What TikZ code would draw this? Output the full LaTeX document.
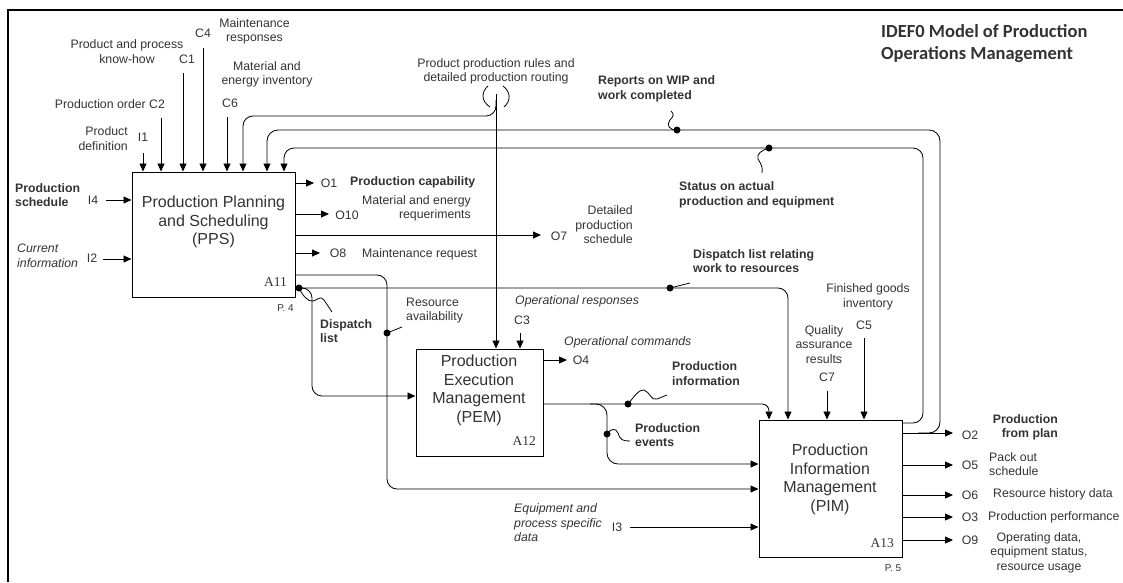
\documentclass[tikz,border=0pt]{standalone}
\usepackage{fontspec}
\setmainfont{Liberation Sans}
\newfontfamily\headfont{Carlito}
\newfontfamily\tagfont{Liberation Serif}
\usetikzlibrary{arrows.meta}
\definecolor{ink}{HTML}{333333}

\tikzset{
  lbl/.style={inner sep=0pt, text=ink, font=\fontsize{12.3}{14.5}\selectfont},
  blbl/.style={lbl, font=\fontsize{12.3}{14.5}\selectfont\bfseries},
  ilbl/.style={lbl, font=\fontsize{12.3}{14.5}\selectfont\itshape},
  box/.style={draw, line width=1pt, inner sep=0pt},
  boxtitle/.style={inner sep=0pt, align=center, text=ink, font=\fontsize{16}{18.5}\selectfont},
  tag/.style={inner sep=0pt, text=ink, anchor=east, font=\tagfont\fontsize{13.5}{15}\selectfont},
  page/.style={inner sep=0pt, text=ink, font=\fontsize{10}{12}\selectfont},
  flow/.style={line width=0.85pt},
  arr/.style={flow, -{Triangle[length=8pt,width=7pt]}},
  dot/.style={circle, fill, inner sep=0pt, minimum size=7pt},
  squig/.style={line width=0.8pt},
}

\begin{document}
\begin{tikzpicture}[x=1pt, y=-1pt]
\useasboundingbox (0,0) rectangle (1123,582);

% frame
\draw[line width=2pt] (8,582) -- (8,10) -- (1123,10);

% title
\node[inner sep=0pt, anchor=west, align=left, text=ink,
      font=\headfont\bfseries\fontsize{18.5}{22}\selectfont] (title) at (881,44)
  {IDEF0 Model of Production\\Operations Management};

% activity boxes
\node[box, minimum width=163pt, minimum height=125pt] (pps) at (213.5,234.5) {};
\node[box, minimum width=127pt, minimum height=107pt] (pem) at (479.5,402.5) {};
\node[box, minimum width=143pt, minimum height=137pt] (pim) at (830.5,488.5) {};

\node[boxtitle] (pps-t) at (213.5,222) {Production Planning\\and Scheduling\\(PPS)};
\node[boxtitle] (pem-t) at (479,390.5) {Production\\Execution\\Management\\(PEM)};
\node[boxtitle] (pim-t) at (830,479.5) {Production\\Information\\Management\\(PIM)};

\node[tag] (pps-n) at (287,282) {A11};
\node[tag] (pem-n) at (536,441) {A12};
\node[tag] (pim-n) at (894,543) {A13};
\node[page] (pps-p) at (285.5,308) {P. 4};
\node[page] (pim-p) at (893,568) {P. 5};

% ---------- PPS controls and inputs from above
\coordinate (i1) at (143,153);
\coordinate (c2) at (161,118);
\coordinate (c1) at (183,73);
\coordinate (c4) at (203,48);
\coordinate (c6) at (227,117);
\draw[arr] (i1) -- (i1 |- pps.north);
\draw[arr] (c2) -- (c2 |- pps.north);
\draw[arr] (c1) -- (c1 |- pps.north);
\draw[arr] (c4) -- (c4 |- pps.north);
\draw[arr] (c6) -- (c6 |- pps.north);

\node[lbl, anchor=east, align=right] (l-i1) at (128,138.5) {Product\\definition};
\node[lbl] (t-i1) at (143,137) {I1};
\node[lbl, anchor=east] (l-c2) at (146,104) {Production order};
\node[lbl] (t-c2) at (157,104) {C2};
\node[lbl, align=center] (l-c1) at (127,51.5) {Product and process\\know-how};
\node[lbl] (t-c1) at (187,59) {C1};
\node[lbl] (t-c4) at (203,33) {C4};
\node[lbl, align=center] (l-c4) at (254.5,31.5) {Maintenance\\responses};
\node[lbl, align=center] (l-c6) at (267,74.5) {Material and\\energy inventory};
\node[lbl] (t-c6) at (230,103) {C6};

% rules arrow with tunnel marks
\coordinate (rules) at (496,94);
\draw[arr] (rules) -- (rules |- pem.north);
\draw[squig] (488,86) .. controls (481,92) and (481,101) .. (490,107);
\draw[squig] (503,86) .. controls (511,92) and (511,101) .. (504,107);
\node[lbl, align=center] (l-rules) at (496,71.5)
  {Product production rules and\\detailed production routing};
\draw[arr, rounded corners=10pt] (496,100) |- (243,116) -- (243,116 |- pps.north);

% feedback loops from PIM back to PPS
\draw[arr, rounded corners=11pt] (918,433) -| (940,130) -| (267,130 |- pps.north);
\draw[arr, rounded corners=10pt] (pim.east |- 0,423) -| (923,148) -| (284,148 |- pps.north);

\node[dot] (wipdot) at (677,130) {};
\draw[squig] (wipdot.center) .. controls (669,130) and (666,125) .. (670,120)
  .. controls (674,116) and (674,114) .. (671,111);
\node[blbl, anchor=west, align=left] (l-wip) at (598,89) {Reports on WIP and\\work completed};

\node[dot] (stdot) at (769,148) {};
\draw[squig] (stdot.center) .. controls (762,150) and (756,154) .. (758,159)
  .. controls (761,164) and (763,167) .. (762,173);
\node[blbl, anchor=west, align=left] (l-st) at (679,195) {Status on actual\\production and equipment};

% ---------- PPS inputs from the left
\coordinate (i4) at (106,200);
\coordinate (i2) at (103,259);
\draw[arr] (i4) -- (i4 -| pps.west);
\draw[arr] (i2) -- (i2 -| pps.west);
\node[lbl] (t-i4) at (93,200) {I4};
\node[blbl, anchor=west, align=left] (l-i4) at (15,195) {Production\\schedule};
\node[lbl] (t-i2) at (92,258) {I2};
\node[ilbl, anchor=west, align=left] (l-i2) at (17,256) {Current\\information};

% ---------- PPS outputs
\coordinate (o1) at (314,183);
\coordinate (o10) at (329,214);
\coordinate (o7) at (541,235);
\coordinate (o8) at (320,253);
\draw[arr] (pps.east |- o1) -- (o1);
\draw[arr] (pps.east |- o10) -- (o10);
\draw[arr] (pps.east |- o7) -- (o7);
\draw[arr] (pps.east |- o8) -- (o8);

\node[lbl] (t-o1) at (329,183) {O1};
\node[blbl, anchor=west] (l-o1) at (350,182) {Production capability};
\node[lbl] (t-o10) at (347,215) {O10};
\node[lbl, anchor=east, align=right] (l-o10) at (471,208.5) {Material and energy\\requeriments};
\node[lbl] (t-o7) at (559,236) {O7};
\node[lbl, anchor=east, align=right] (l-o7) at (633,225) {Detailed\\production\\schedule};
\node[lbl] (t-o8) at (338,253) {O8};
\node[lbl, anchor=west] (l-o8) at (362,254) {Maintenance request};

% resource availability
\draw[arr, rounded corners=10pt] (pps.east |- 0,275) -| (387,489) -- (387,489 -| pim.west);
\node[dot] (radot) at (387,333) {};
\draw[squig] (radot.center) -- (402,327);
\node[lbl, anchor=west, align=left] (l-ra) at (406,310.5) {Resource\\availability};

% dispatch list relating work to resources
\draw[arr, rounded corners=10pt] (pps.east |- 0,288) -| (788,288 |- pim.north);
\node[dot] (drdot) at (670,288) {};
\draw[squig] (drdot.center) -- (690,283);
\node[blbl, anchor=west, align=left] (l-dr) at (693,261) {Dispatch list relating\\work to resources};

% dispatch list to PEM
\node[dot] (dldot) at (299,288) {};
\draw[arr, rounded corners=10pt] (dldot.center) -| (312,396) -- (312,396 -| pem.west);
\draw[squig] (dldot.center) .. controls (303,296) and (308,302) .. (313,301)
  .. controls (318,300) and (320,295) .. (324,300) -- (332,312);
\node[blbl, anchor=west, align=left] (l-dl) at (320,331) {Dispatch\\list};

% ---------- PEM
\coordinate (c3) at (520,333);
\draw[arr] (c3) -- (c3 |- pem.north);
\node[lbl] (t-c3) at (522,320) {C3};
\node[ilbl, anchor=west] (l-c3) at (515,301) {Operational responses};

\coordinate (o4) at (567,360);
\draw[arr] (pem.east |- o4) -- (o4);
\node[lbl] (t-o4) at (581,360) {O4};
\node[ilbl, anchor=west] (l-o4) at (564,342) {Operational commands};

\coordinate (pinfo) at (769,404);
\draw[arr, rounded corners=7pt] (pem.east |- pinfo) -| (pinfo |- pim.north);
\node[dot] (pidot) at (628,404) {};
\draw[squig] (pidot.center) .. controls (633,398) and (639,389) .. (644,390)
  .. controls (650,392) and (651,401) .. (657,399) -- (667,395);
\node[blbl, anchor=west, align=left] (l-pi) at (672,373.5) {Production\\information};

\draw[arr, rounded corners=11pt] (590,404) -| (607,464) -- (607,464 -| pim.west);
\node[dot] (pedot) at (607,434) {};
\draw[squig] (pedot.center) .. controls (611,428) and (616,428) .. (618,433)
  .. controls (620,440) and (623,441) .. (630,441);
\node[blbl, anchor=west, align=left] (l-pe) at (635,435) {Production\\events};

% ---------- PIM
\coordinate (i3) at (630,527);
\draw[arr] (i3) -- (i3 -| pim.west);
\node[lbl] (t-i3) at (617,527) {I3};
\node[ilbl, anchor=west, align=left] (l-i3) at (514,523) {Equipment and\\process specific\\data};

\coordinate (c7) at (827,391);
\coordinate (c5) at (864,338);
\draw[arr] (c7) -- (c7 |- pim.north);
\draw[arr] (c5) -- (c5 |- pim.north);
\node[lbl] (t-c7) at (827,377) {C7};
\node[lbl, align=center] (l-c7) at (824,344.5) {Quality\\assurance\\results};
\node[lbl] (t-c5) at (864,325) {C5};
\node[lbl, align=center] (l-c5) at (868,297) {Finished goods\\inventory};

\coordinate (o2) at (953,433);
\coordinate (o5) at (953,465);
\coordinate (o6) at (953,495);
\coordinate (o3) at (953,517);
\coordinate (o9) at (953,540);
\draw[arr] (pim.east |- o2) -- (o2);
\draw[arr] (pim.east |- o5) -- (o5);
\draw[arr] (pim.east |- o6) -- (o6);
\draw[arr] (pim.east |- o3) -- (o3);
\draw[arr] (pim.east |- o9) -- (o9);

\node[lbl] (t-o2) at (970,435) {O2};
\node[blbl, anchor=east, align=right] (l-o2) at (1058,427.5) {Production\\from plan};
\node[lbl] (t-o5) at (970,465) {O5};
\node[lbl, anchor=west, align=left] (l-o5) at (989,464) {Pack out\\schedule};
\node[lbl] (t-o6) at (970,495) {O6};
\node[lbl, anchor=west] (l-o6) at (993,494) {Resource history data};
\node[lbl] (t-o3) at (970,517) {O3};
\node[lbl, anchor=west] (l-o3) at (988,517) {Production performance};
\node[lbl] (t-o9) at (970,540) {O9};
\node[lbl, align=center] (l-o9) at (1039,552.5) {Operating data,\\equipment status,\\resource usage};

\end{tikzpicture}
\end{document}
